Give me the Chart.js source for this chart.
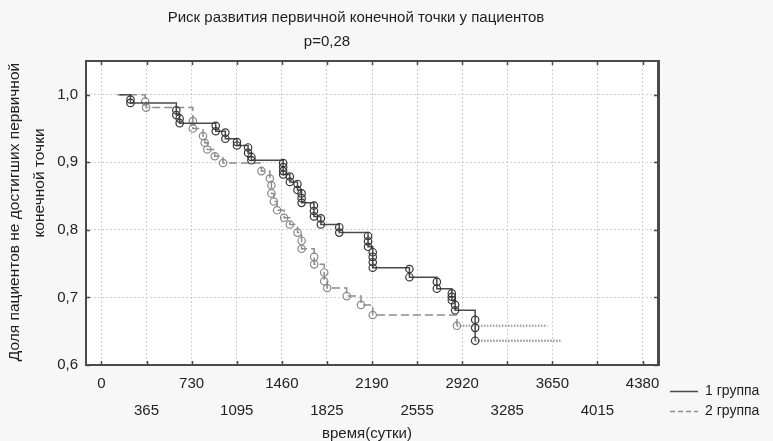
<!DOCTYPE html>
<html>
<head>
<meta charset="utf-8">
<style>
html,body{margin:0;padding:0;background:#f7f7f7;}
canvas{display:block;}
</style>
<script src="https://cdn.jsdelivr.net/npm/chart.js@4/dist/chart.umd.min.js"></script>
</head>
<body>
<canvas id="c" width="773" height="441"></canvas>
<script>
// ---------- texts ----------
const titleText = 'Риск развития первичной конечной точки у пациентов';
const subtitleText = 'p=0,28';
const xTitle = 'время(сутки)';
const yTitleLines = ['Доля пациентов не достигших первичной', 'конечной точки'];
const seriesNames = ['1 группа', '2 группа'];

// ---------- ticks ----------
const xTicks = [0, 365, 730, 1095, 1460, 1825, 2190, 2555, 2920, 3285, 3650, 4015, 4380];
const yTicks = [0.6, 0.7, 0.8, 0.9, 1.0];

// ---------- group 1 (events, last point = end of follow-up) ----------
const group1Time = [146, 235, 235, 606, 606, 633, 633, 925, 925, 1003, 1003,
  1097, 1097, 1187, 1187, 1214, 1214, 1471, 1471, 1471, 1471, 1525, 1525,
  1587, 1587, 1620, 1620, 1620, 1720, 1720, 1720, 1776, 1776, 1925, 1925,
  2158, 2158, 2158, 2196, 2196, 2196, 2196, 2493, 2493, 2715, 2715,
  2836, 2836, 2836, 2863, 2863, 3025, 3025, 3025, 3715];
const group1Surv = [1.0, 0.993, 0.988, 0.977, 0.970, 0.965, 0.958, 0.954, 0.946, 0.944, 0.935,
  0.930, 0.925, 0.922, 0.914, 0.908, 0.903, 0.899, 0.893, 0.887, 0.882, 0.879, 0.871,
  0.868, 0.859, 0.854, 0.847, 0.840, 0.836, 0.828, 0.820, 0.817, 0.808, 0.804, 0.796,
  0.791, 0.783, 0.775, 0.767, 0.760, 0.752, 0.744, 0.742, 0.730, 0.723, 0.713,
  0.706, 0.701, 0.696, 0.689, 0.681, 0.667, 0.655, 0.636, 0.636];

// ---------- group 2 ----------
const group2Time = [127, 354, 362, 740, 740, 822, 836, 857, 917, 984,
  1295, 1363, 1376, 1376, 1395, 1422, 1479, 1525, 1587, 1620, 1620,
  1722, 1722, 1803, 1803, 1827, 1985, 2101, 2196, 2877, 3609];
const group2Surv = [1.0, 0.990, 0.981, 0.961, 0.950, 0.939, 0.929, 0.919, 0.909, 0.899,
  0.887, 0.876, 0.866, 0.854, 0.842, 0.829, 0.818, 0.808, 0.796, 0.784, 0.772,
  0.760, 0.749, 0.737, 0.724, 0.714, 0.702, 0.689, 0.674, 0.658, 0.658];

const FONT = "'Liberation Sans', Arial, sans-serif";
const toPoints = (ts, vs) => ts.map((t, i) => ({x: t, y: vs[i]}));

function endAware(n, inner, edge) {
  return ctx => (ctx.dataIndex === 0 || ctx.dataIndex === n - 1) ? edge : inner;
}

const decor = {
  id: 'decor',
  beforeDraw(chart) {
    const {ctx, chartArea: a} = chart;
    ctx.save();
    ctx.fillStyle = '#f7f7f7';
    ctx.fillRect(0, 0, chart.width, chart.height);
    ctx.fillStyle = '#ffffff';
    ctx.fillRect(a.left, a.top, a.right - a.left, a.bottom - a.top);
    ctx.restore();
  },
  afterDraw(chart) {
    const {ctx, chartArea: a, scales} = chart;
    ctx.save();
    // frame
    ctx.strokeStyle = '#4a4a4a';
    ctx.lineWidth = 2;
    ctx.strokeRect(a.left, a.top, a.right - a.left, a.bottom - a.top);
    ctx.lineWidth = 3;
    ctx.beginPath();
    ctx.moveTo(a.right + 0.5, a.top - 1); ctx.lineTo(a.right + 0.5, a.bottom + 1);
    ctx.stroke();
    // inner ticks
    ctx.lineWidth = 1.5;
    ctx.beginPath();
    xTicks.forEach(v => {
      const x = Math.round(scales.x.getPixelForValue(v)) + 0.5;
      ctx.moveTo(x, a.bottom); ctx.lineTo(x, a.bottom - 4);
      ctx.moveTo(x, a.top); ctx.lineTo(x, a.top + 4);
    });
    yTicks.forEach(v => {
      const y = Math.round(scales.y.getPixelForValue(v)) + 0.5;
      ctx.moveTo(a.left, y); ctx.lineTo(a.left + 4, y);
      ctx.moveTo(a.right, y); ctx.lineTo(a.right - 4, y);
    });
    ctx.stroke();

    // titles
    ctx.fillStyle = '#1e1e1e';
    ctx.font = '15px ' + FONT;
    ctx.textAlign = 'center';
    ctx.textBaseline = 'middle';
    ctx.fillText(titleText, 356, 18);
    ctx.fillText(subtitleText, 327, 42);
    ctx.fillText(xTitle, 367, 434);
    // y title
    ctx.font = '15.5px ' + FONT;
    ctx.save();
    ctx.translate(15, 212);
    ctx.rotate(-Math.PI / 2);
    ctx.fillText(yTitleLines[0], 0, 0);
    ctx.restore();
    ctx.save();
    ctx.translate(40, 183);
    ctx.rotate(-Math.PI / 2);
    ctx.fillText(yTitleLines[1], 0, 0);
    ctx.restore();

    // legend
    ctx.font = '14px ' + FONT;
    const ds = chart.data.datasets;
    ctx.textAlign = 'left';
    [391, 411].forEach((y, i) => {
      ctx.save();
      ctx.strokeStyle = ds[i].borderColor;
      ctx.lineWidth = 1.5;
      ctx.setLineDash(i === 1 ? [5, 3] : []);
      ctx.beginPath();
      ctx.moveTo(670, y + 0.5); ctx.lineTo(698, y + 0.5);
      ctx.stroke();
      ctx.restore();
      ctx.fillText(ds[i].label, 705, y);
    });
    ctx.restore();
  }
};

const n1 = group1Time.length, n2 = group2Time.length;

new Chart(document.getElementById('c'), {
  type: 'line',
  data: {
    datasets: [
      {
        label: seriesNames[0],
        data: toPoints(group1Time, group1Surv),
        stepped: 'before',
        borderColor: '#4a4a4a',
        borderWidth: 1.5,
        pointRadius: endAware(n1, 3.7, 0),
        pointBorderColor: '#363636',
        pointBackgroundColor: 'rgba(255,255,255,0)',
        pointBorderWidth: 1.2,
        segment: {
          borderDash: c => c.p1DataIndex === n1 - 1 ? [1.5, 1.5] : undefined,
          borderColor: c => c.p1DataIndex === n1 - 1 ? '#9a9a9a' : undefined,
          borderWidth: c => c.p1DataIndex === n1 - 1 ? 2.5 : undefined
        }
      },
      {
        label: seriesNames[1],
        data: toPoints(group2Time, group2Surv),
        stepped: 'before',
        borderColor: '#8c8c8c',
        borderWidth: 1.5,
        borderDash: [8, 4],
        pointRadius: endAware(n2, 3.7, 0),
        pointBorderColor: '#888888',
        pointBackgroundColor: 'rgba(255,255,255,0)',
        pointBorderWidth: 1.2,
        segment: {
          borderDash: c => c.p1DataIndex === n2 - 1 ? [1.5, 1.5] : undefined,
          borderColor: c => c.p1DataIndex === n2 - 1 ? '#a5a5a5' : undefined,
          borderWidth: c => c.p1DataIndex === n2 - 1 ? 2.5 : undefined
        }
      }
    ]
  },
  options: {
    responsive: false,
    animation: false,
    devicePixelRatio: 1,
    layout: {padding: {left: 0, top: 61, right: 115, bottom: 0}},
    plugins: {legend: {display: false}, title: {display: false}, tooltip: {enabled: false}},
    scales: {
      x: {
        type: 'linear',
        min: -125,
        max: 4505,
        afterBuildTicks: s => { s.ticks = xTicks.map(v => ({value: v})); },
        afterFit: s => { s.height = 76; },
        grid: {color: '#cfcfcf', lineWidth: 1, drawTicks: false},
        border: {display: false, dash: [2, 2]},
        ticks: {
          padding: 5,
          maxRotation: 0,
          autoSkip: false,
          color: '#222',
          font: {family: FONT, size: 15, lineHeight: 1.8},
          callback: (v, i) => (i % 2 === 1 ? ['', String(v)] : String(v))
        }
      },
      y: {
        type: 'linear',
        min: 0.6,
        max: 1.05,
        afterBuildTicks: s => { s.ticks = yTicks.map(v => ({value: v})); },
        afterFit: s => { s.width = 86; },
        grid: {color: '#cfcfcf', lineWidth: 1, drawTicks: false},
        border: {display: false, dash: [2, 2]},
        ticks: {
          padding: 8,
          color: '#222',
          font: {family: FONT, size: 15},
          callback: v => v.toFixed(1).replace('.', ',')
        }
      }
    }
  },
  plugins: [decor]
});
</script>
</body>
</html>
